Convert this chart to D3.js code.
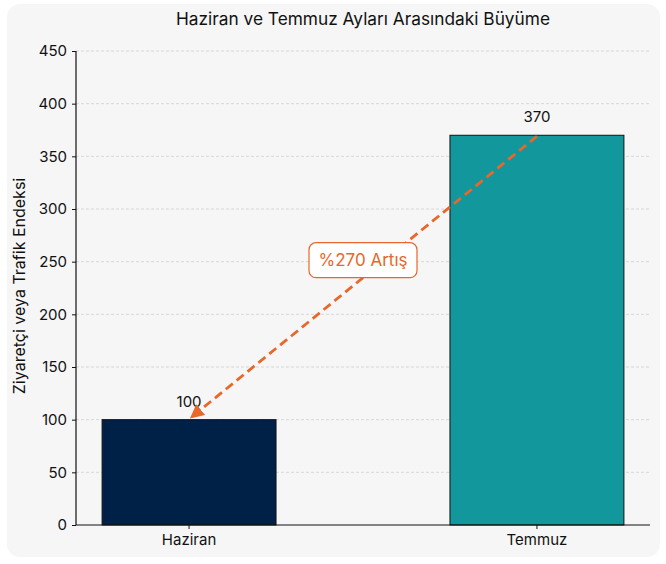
<!DOCTYPE html>
<html>
<head>
<meta charset="utf-8">
<script src="https://cdn.jsdelivr.net/npm/d3@7"></script>
<style>
  body { margin: 0; background: #fff; }
  svg { display: block; font-family: Inter, sans-serif; }
</style>
</head>
<body>
<div id="chart"></div>
<script>
const months = ["Haziran", "Temmuz"];
const values = [100, 370];
const barColors = ["#002147", "#12979c"];
const yTicks = [0, 50, 100, 150, 200, 250, 300, 350, 400, 450];
const annotation = {label: "%270 Artış", labelY: 250};

const W = 666, H = 564;
const marg = {top: 51, right: 16, bottom: 39, left: 76};
const wid = W - marg.left - marg.right,
  hei = H - marg.top - marg.bottom;
const font = "Inter, sans-serif";

const svg = d3.select("#chart").append("svg")
  .attr("width", W)
  .attr("height", H);

// card background
svg.append("rect")
  .attr("x", 7).attr("y", 4)
  .attr("width", 653).attr("height", 553)
  .attr("rx", 13)
  .attr("fill", "#f6f6f6");

svg.append("text")
  .attr("x", marg.left + wid / 2)
  .attr("y", 25)
  .attr("text-anchor", "middle")
  .style("font-size", "17.3px")
  .style("fill", "#111")
  .text("Haziran ve Temmuz Ayları Arasındaki Büyüme");

const g = svg.append("g")
  .attr("transform", `translate(${marg.left},${marg.top})`);

const x = d3.scaleBand()
  .domain(months)
  .range([0, wid])
  .paddingInner(0.5)
  .paddingOuter(0.075);

const y = d3.scaleLinear()
  .domain([0, 450])
  .range([hei, 0]);

// grid
g.append("g")
  .selectAll("line")
  .data(yTicks.filter(d => d > 0))
  .join("line")
  .attr("x1", 0).attr("x2", wid)
  .attr("y1", d => y(d)).attr("y2", d => y(d))
  .attr("stroke", "#cfcfcf")
  .attr("stroke-width", 0.8)
  .attr("stroke-dasharray", "3,2");

// bars
g.append("g")
  .selectAll("rect")
  .data(months)
  .join("rect")
  .attr("x", d => x(d))
  .attr("y", (d, i) => y(values[i]))
  .attr("width", x.bandwidth())
  .attr("height", (d, i) => hei - y(values[i]))
  .attr("fill", (d, i) => barColors[i])
  .attr("stroke", "#111")
  .attr("stroke-width", 1);

// value labels
g.append("g")
  .selectAll("text")
  .data(months)
  .join("text")
  .attr("x", d => x(d) + x.bandwidth() / 2)
  .attr("y", (d, i) => y(values[i]) - 13)
  .attr("text-anchor", "middle")
  .style("font-size", "15px")
  .style("fill", "#111")
  .text((d, i) => values[i]);

// axes
const xAxis = g.append("g")
  .attr("transform", `translate(0,${hei})`)
  .call(d3.axisBottom(x).tickSize(4).tickPadding(5));
const yAxis = g.append("g")
  .call(d3.axisLeft(y).tickValues(yTicks).tickSize(4).tickPadding(5));

[xAxis, yAxis].forEach(a => {
  a.select(".domain").attr("stroke", "#111").attr("stroke-width", 1.2);
  a.selectAll(".tick line").attr("stroke", "#111");
  a.selectAll(".tick text")
    .style("font-size", "15px")
    .style("fill", "#111")
    .style("font-family", font);
});
xAxis.select(".domain").attr("d", `M0,0H${wid}`);
yAxis.select(".domain").attr("d", `M0,${hei}V0`);

svg.append("text")
  .attr("transform", `translate(25,${marg.top + hei / 2 - 2}) rotate(-90)`)
  .attr("text-anchor", "middle")
  .style("font-size", "16px")
  .style("fill", "#111")
  .text("Ziyaretçi veya Trafik Endeksi");

// annotation arrow
const orange = "#e8672a";
svg.append("defs").append("marker")
  .attr("id", "head")
  .attr("viewBox", "0 0 10 10")
  .attr("refX", 8).attr("refY", 5)
  .attr("markerWidth", 5).attr("markerHeight", 5)
  .attr("markerUnits", "strokeWidth")
  .attr("orient", "auto")
  .append("path")
  .attr("d", "M0,0 L10,5 L0,10 z")
  .attr("fill", orange);

const cx = i => x(months[i]) + x.bandwidth() / 2;
g.append("line")
  .attr("x1", cx(1)).attr("y1", y(values[1]) + 1)
  .attr("x2", cx(0) + 3).attr("y2", y(values[0]) - 3)
  .attr("stroke", orange)
  .attr("stroke-width", 2.8)
  .attr("stroke-dasharray", "9,5")
  .attr("marker-end", "url(#head)");

const midX = (cx(0) + cx(1)) / 2;
const lbl = g.append("g").attr("transform", `translate(${midX},${y(annotation.labelY) - 2})`);
lbl.append("rect")
  .attr("x", -54).attr("y", -17)
  .attr("width", 108).attr("height", 35)
  .attr("rx", 7)
  .attr("fill", "#fff")
  .attr("stroke", orange)
  .attr("stroke-width", 1.2);
lbl.append("text")
  .attr("text-anchor", "middle")
  .attr("dy", "0.35em")
  .style("font-size", "17px")
  .style("fill", orange)
  .text(annotation.label);
</script>
</body>
</html>
